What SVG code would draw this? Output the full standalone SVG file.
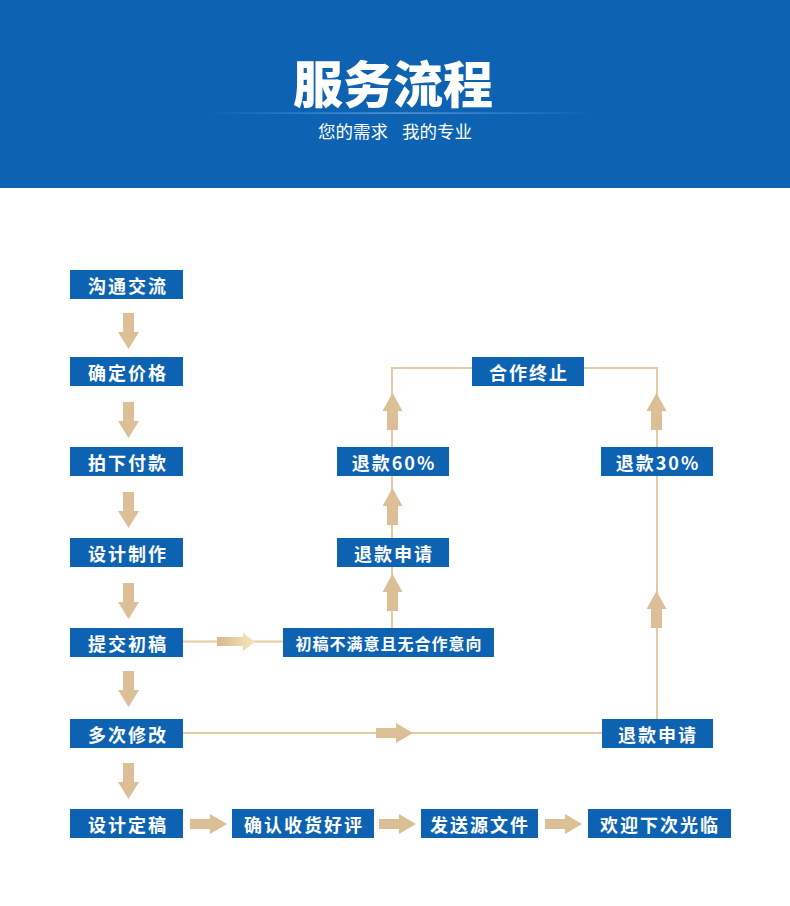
<svg xmlns="http://www.w3.org/2000/svg" width="790" height="906" viewBox="0 0 790 906">
<style>
.box{fill:#0d62b1}
.bt{fill:#fff;font-family:"Noto Sans CJK SC","Noto Sans",sans-serif;font-weight:700;font-size:18px;letter-spacing:2px;text-anchor:middle;dominant-baseline:central}
.small{font-size:16px;letter-spacing:1px}
.sub{fill:#fff;font-family:"Noto Sans CJK SC",sans-serif;font-size:17.5px}
.ln{stroke:#e6caa2;stroke-width:2;fill:none}
.ar{fill:#dcbf96}
</style>
<defs>
<linearGradient id="hl" x1="0" x2="1" y1="0" y2="0">
<stop offset="0" stop-color="#6aa6e0" stop-opacity="0"/>
<stop offset="0.5" stop-color="#6aa6e0" stop-opacity="1"/>
<stop offset="1" stop-color="#6aa6e0" stop-opacity="0"/>
</linearGradient>
<linearGradient id="ga" x1="0" x2="1" y1="0" y2="0">
<stop offset="0" stop-color="#d8b88c"/>
<stop offset="1" stop-color="#f6e8bd"/>
</linearGradient>
<path id="down" d="M-5.5 0H5.5V19H10.5L0 36L-10.5 19H-5.5Z"/>
<path id="up" d="M-5.5 0H5.5V-19H10L0 -37L-10 -19H-5.5Z"/>
<path id="right" d="M0 -5H20V-10L37 0L20 10V5H0Z"/>
</defs>
<rect x="0" y="0" width="790" height="188" fill="#0d63b1"/>
<text x="393" y="103" fill="#fff" font-family="'Noto Sans CJK SC',sans-serif" font-weight="900" font-size="50" text-anchor="middle">服务流程</text>
<rect x="200" y="112.5" width="400" height="1.2" fill="url(#hl)"/>
<text class="sub" x="318" y="138">您的需求</text>
<text class="sub" x="402" y="138">我的专业</text>

<g id="connectors">
<polyline class="ln" points="392,628 392,368 657,368 657,719"/>
<line class="ln" x1="183" y1="641.5" x2="283" y2="641.5"/>
<line class="ln" x1="183" y1="733" x2="602" y2="733"/>
<g class="ar">
<use href="#down" x="128.5" y="313"/>
<use href="#down" x="128.5" y="402"/>
<use href="#down" x="128.5" y="492"/>
<use href="#down" x="128.5" y="583"/>
<use href="#down" x="128.5" y="671"/>
<use href="#down" x="128.5" y="763"/>
<use href="#up" x="392.5" y="430"/>
<use href="#up" x="656.5" y="430"/>
<use href="#up" x="392.5" y="525"/>
<use href="#up" x="392.5" y="611"/>
<use href="#up" x="656.5" y="628"/>
<use href="#right" x="376" y="733"/>
<use href="#right" x="190" y="824"/>
<use href="#right" x="379" y="824"/>
<use href="#right" x="545" y="824"/>
</g>
<path d="M217 637H243V633L255 642L243 651V646H217Z" fill="url(#ga)"/>
</g>

<g id="n1"><rect class="box" x="70" y="270" width="113" height="29"/><text class="bt" x="128" y="285">沟通交流</text></g>
<g id="n2"><rect class="box" x="70" y="357" width="113" height="29"/><text class="bt" x="128" y="372">确定价格</text></g>
<g id="n3"><rect class="box" x="70" y="447" width="113" height="29"/><text class="bt" x="128" y="462">拍下付款</text></g>
<g id="n4"><rect class="box" x="70" y="538" width="113" height="29"/><text class="bt" x="128" y="553">设计制作</text></g>
<g id="n5"><rect class="box" x="70" y="628" width="113" height="29"/><text class="bt" x="128" y="643">提交初稿</text></g>
<g id="n6"><rect class="box" x="70" y="719" width="113" height="29"/><text class="bt" x="128" y="734">多次修改</text></g>
<g id="n7"><rect class="box" x="70" y="809" width="113" height="29"/><text class="bt" x="128" y="824">设计定稿</text></g>
<g id="n8"><rect class="box" x="232" y="809" width="142" height="29"/><text class="bt" x="304" y="824">确认收货好评</text></g>
<g id="n9"><rect class="box" x="421" y="809" width="117" height="29"/><text class="bt" x="480" y="824">发送源文件</text></g>
<g id="n10"><rect class="box" x="588" y="809" width="143" height="29"/><text class="bt" x="660" y="824">欢迎下次光临</text></g>
<g id="n11"><rect class="box" x="283" y="628" width="211" height="29"/><text class="bt small" x="389" y="643">初稿不满意且无合作意向</text></g>
<g id="n12"><rect class="box" x="337" y="538" width="112" height="29"/><text class="bt" x="394" y="553">退款申请</text></g>
<g id="n13"><rect class="box" x="337" y="447" width="112" height="29"/><text class="bt" x="394" y="462">退款60%</text></g>
<g id="n14"><rect class="box" x="472" y="357" width="112" height="29"/><text class="bt" x="529" y="372">合作终止</text></g>
<g id="n15"><rect class="box" x="601" y="447" width="112" height="29"/><text class="bt" x="658" y="462">退款30%</text></g>
<g id="n16"><rect class="box" x="602" y="719" width="111" height="29"/><text class="bt" x="658" y="734">退款申请</text></g>
</svg>
